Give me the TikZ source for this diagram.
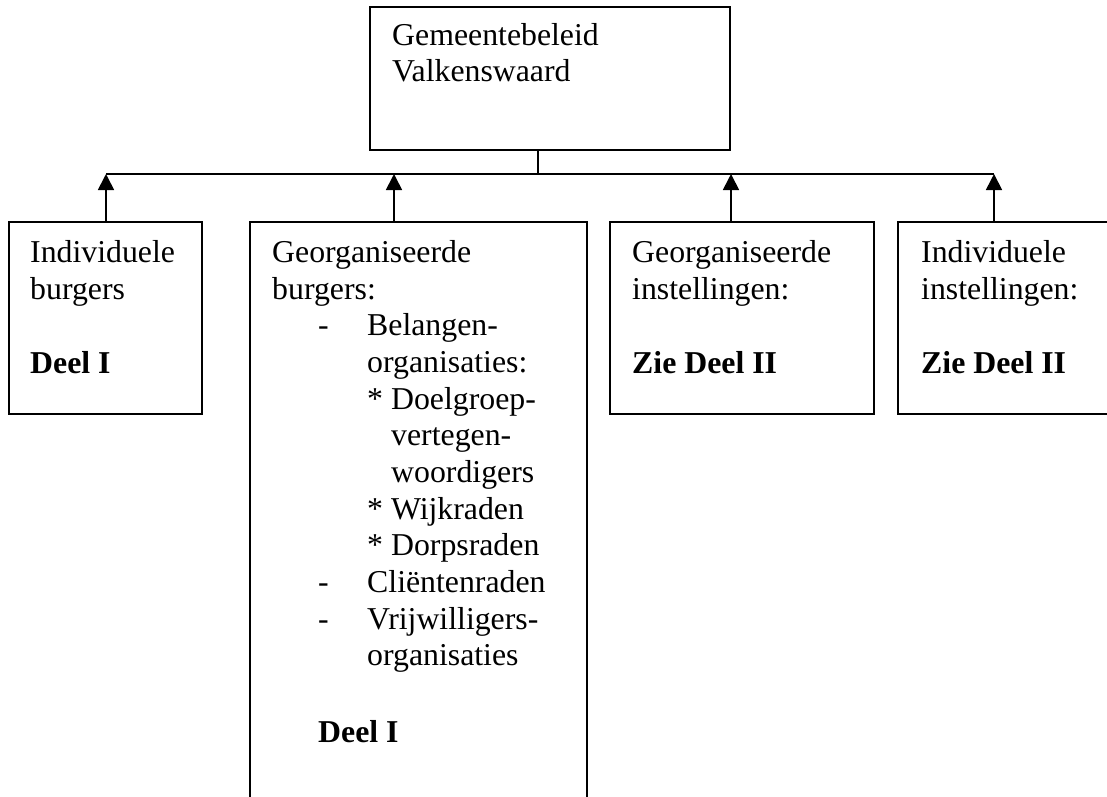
\documentclass[tikz,border=0pt]{standalone}
\usepackage{fontspec}
\setmainfont{Liberation Serif}
\usetikzlibrary{arrows.meta}
\tikzset{
  box/.style={draw, line width=1.7pt, inner sep=0pt, rectangle},
  txt/.style={anchor=base west, inner sep=0pt, font=\fontsize{31.8}{36.7}\selectfont},
  btxt/.style={txt, font=\fontsize{31.8}{36.7}\selectfont\bfseries},
  conn/.style={line width=1.7pt},
  arr/.style={line width=1.7pt, -{Triangle[length=16pt,width=16pt]}}
}
\begin{document}
\begin{tikzpicture}[x=1pt,y=-1pt]
\useasboundingbox (0,0) rectangle (1107,796);
\clip (0,0) rectangle (1107,796);
% boxes
\node[box, minimum width=360pt, minimum height=143pt] (top) at (550,78.5) {};
\node[box, minimum width=193pt, minimum height=192pt] (b1) at (105.5,318) {};
\node[box, minimum width=337pt, minimum height=620pt] (b2) at (418.5,532) {};
\node[box, minimum width=264pt, minimum height=192pt] (b3) at (742,318) {};
\node[box, minimum width=240pt, minimum height=192pt] (b4) at (1018,318) {};
% bus coordinates
\coordinate (s) at (538,174);
\coordinate (a1) at (106,174);
\coordinate (a2) at (394,174);
\coordinate (a3) at (731,174);
\coordinate (a4) at (994,174);
\draw[conn] (top.south -| s) -- (s);
\draw[conn] (a1) -- (a4);
\draw[arr] (b1.north -| a1) -- (a1);
\draw[arr] (b2.north -| a2) -- (a2);
\draw[arr] (b3.north -| a3) -- (a3);
\draw[arr] (b4.north -| a4) -- (a4);
% top text
\node[txt] (t1) at (392,45) {Gemeentebeleid};
\node[txt] (t2) at (392,81) {Valkenswaard};
% box 1
\node[txt] (l1) at (30,262) {Individuele};
\node[txt] (l2) at (30,299) {burgers};
\node[btxt] (l3) at (30,373) {Deel I};
% box 2
\node[txt] (m1) at (272,262) {Georganiseerde};
\node[txt] (m2) at (272,299) {burgers:};
\node[txt] (m3d) at (318,335) {-};
\node[txt] (m3) at (367,335) {Belangen-};
\node[txt] (m4) at (367,372) {organisaties:};
\node[txt] (m5) at (367,409) {* Doelgroep-};
\node[txt] (m6) at (391,445) {vertegen-};
\node[txt] (m7) at (391,482) {woordigers};
\node[txt] (m8) at (367,519) {* Wijkraden};
\node[txt] (m9) at (367,555) {* Dorpsraden};
\node[txt] (m10d) at (318,592) {-};
\node[txt] (m10) at (367,592) {Cliëntenraden};
\node[txt] (m11d) at (318,629) {-};
\node[txt] (m11) at (367,629) {Vrijwilligers-};
\node[txt] (m12) at (367,665) {organisaties};
\node[btxt] (m13) at (318,742) {Deel I};
% box 3
\node[txt] (r1) at (632,262) {Georganiseerde};
\node[txt] (r2) at (632,299) {instellingen:};
\node[btxt] (r3) at (632,373) {Zie Deel II};
% box 4
\node[txt] (q1) at (921,262) {Individuele};
\node[txt] (q2) at (921,299) {instellingen:};
\node[btxt] (q3) at (921,373) {Zie Deel II};
\end{tikzpicture}
\end{document}
